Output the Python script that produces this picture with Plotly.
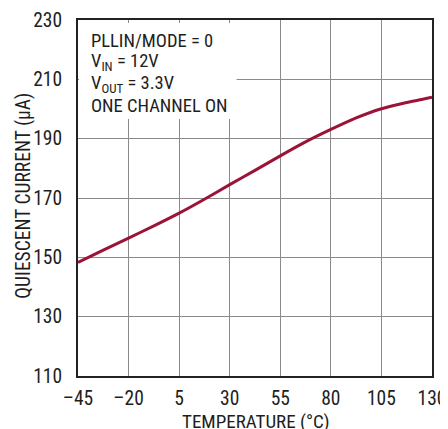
import plotly.graph_objects as go

temps = [-45, -32.5, -20, -7.5, 5, 17.5, 30, 42.5, 55, 67.5, 80, 92.5, 105, 117.5, 130]
current = [148.3, 152.4, 156.5, 160.6, 164.9, 169.6, 174.5, 179.3, 184.2, 188.9, 193.1, 197.0, 200.1, 202.2, 204.0]
xticks = [-45, -20, 5, 30, 55, 80, 105, 130]
xlabels = ["–45", "–20", "5", "30", "55", "80", "105", "130"]
yticks = [110, 130, 150, 170, 190, 210, 230]
notes = ["PLLIN/MODE = 0", "V<sub>IN</sub> = 12V", "V<sub>OUT</sub> = 3.3V", "ONE CHANNEL ON"]
x_title = "TEMPERATURE (°C)"
y_title = "QUIESCENT CURRENT (μA)"

FONT = "Roboto Condensed, Liberation Sans Narrow, Arial Narrow, sans-serif"
TXT = "#1e1e1e"

fig = go.Figure()
fig.add_trace(go.Scatter(x=temps, y=current, mode="lines",
                         line=dict(color="#9b1438", width=3, shape="spline", smoothing=0.6),
                         showlegend=False, hoverinfo="skip"))

fig.add_shape(type="rect", xref="x", yref="y", x0=-44.5, x1=33.4, y0=196.6, y1=229,
              fillcolor="white", line=dict(width=0), layer="above")
note_y = [0.942, 0.881, 0.820, 0.759]
for t, yy in zip(notes, note_y):
    fig.add_annotation(xref="paper", yref="paper", x=0.033, y=yy, xanchor="left", yanchor="middle",
                       showarrow=False, align="left", text=t, borderpad=0,
                       font=dict(family=FONT, size=18.5, color=TXT))

# axis titles
fig.add_annotation(xref="paper", yref="paper", x=0.503, y=-0.127, xanchor="center", yanchor="middle",
                   showarrow=False, text=x_title, borderpad=0,
                   font=dict(family=FONT, size=19, color=TXT))
fig.add_annotation(xref="paper", yref="paper", x=-0.154, y=0.508, xanchor="center", yanchor="middle",
                   showarrow=False, text=y_title, textangle=-90, borderpad=0,
                   font=dict(family=FONT, size=19.5, color=TXT))

fig.update_layout(
    width=440, height=421,
    margin=dict(l=70, r=16, t=12, b=53),
    paper_bgcolor="white", plot_bgcolor="white",
    font=dict(family=FONT, size=19, color=TXT),
    xaxis=dict(range=[-45, 130], tickmode="array", tickvals=xticks, ticktext=xlabels,
               showgrid=True, gridcolor="#8a8a8a", gridwidth=1,
               showline=True, linecolor="#222", linewidth=2, mirror=True,
               ticks="", zeroline=False, ticklabelstandoff=4, automargin=False,
               tickfont=dict(family=FONT, size=19.5, color=TXT)),
    yaxis=dict(range=[110, 230], tickmode="array", tickvals=yticks,
               showgrid=True, gridcolor="#8a8a8a", gridwidth=1,
               showline=True, linecolor="#222", linewidth=2, mirror=True,
               ticks="", zeroline=False, ticklabelstandoff=10, automargin=False,
               tickfont=dict(family=FONT, size=19.5, color=TXT)),
)

fig.write_html("out.html")
